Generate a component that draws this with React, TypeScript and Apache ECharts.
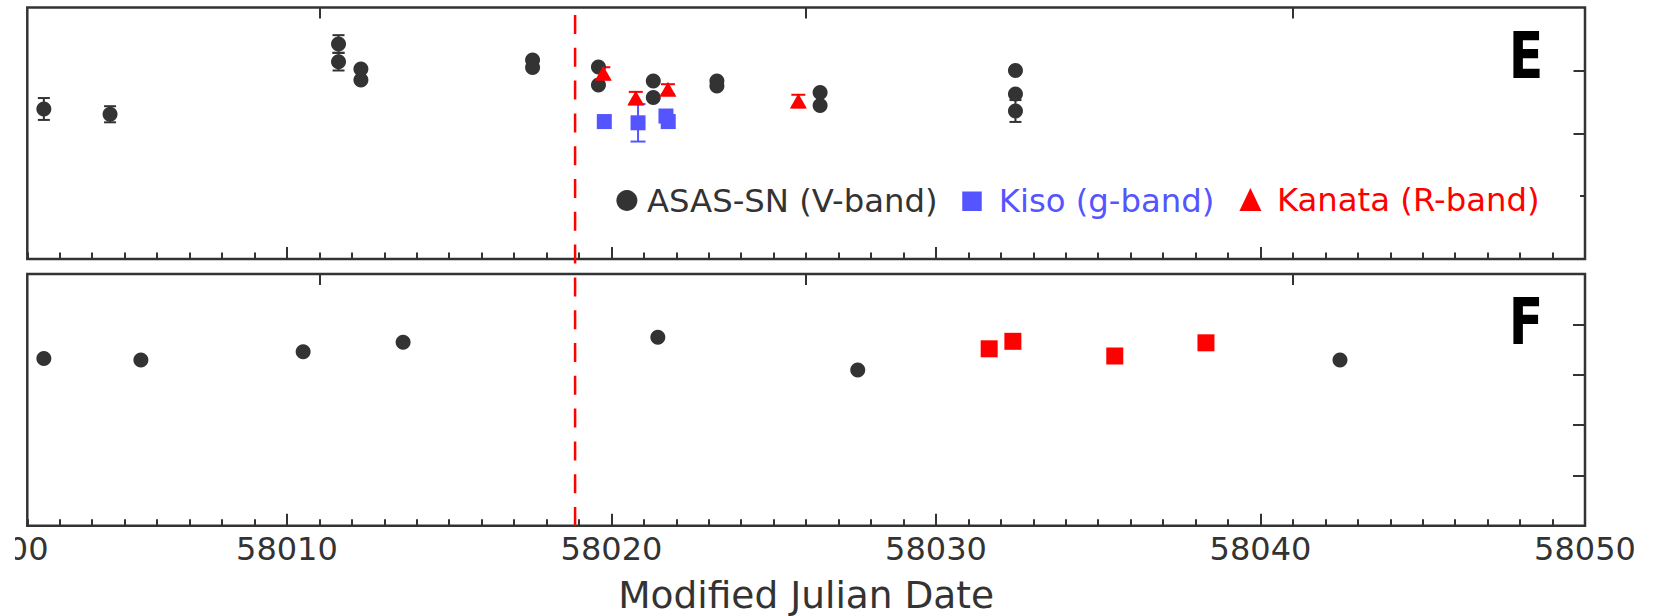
import React, { useEffect, useRef } from 'react';
import * as echarts from 'echarts';

const FONT = "'DejaVu Sans', 'Noto Sans', sans-serif";
const INK = '#333333';
const BLUE = '#5555ff';
const RED = '#ff0000';

const X_MIN = 58002;
const X_MAX = 58050;
const xLabelValues = [58010, 58020, 58030, 58040, 58050];
const xMajorTicks = [58010, 58020, 58030, 58040];
const topAxisTicks = [58011, 58026, 58041];
const eTicksLong = [12.5, 13.0];
const eTicksShort = [13.5];
const fTicks = [1, 2, 3, 4];
const explosionMJD = 58018.88;

// Panel E: [MJD, magnitude, error]
const asasE: number[][] = [
  [58002.51, 12.807, 0.087],
  [58004.55, 12.849, 0.064],
  [58011.59, 12.29, 0.07],
  [58011.59, 12.431, 0.07],
  [58012.28, 12.489, 0],
  [58012.28, 12.577, 0],
  [58017.57, 12.417, 0],
  [58017.57, 12.477, 0],
  [58019.6, 12.473, 0],
  [58019.6, 12.616, 0],
  [58021.29, 12.584, 0],
  [58021.29, 12.716, 0],
  [58023.25, 12.584, 0],
  [58023.25, 12.624, 0],
  [58026.43, 12.676, 0],
  [58026.43, 12.779, 0],
  [58032.45, 12.501, 0],
  [58032.45, 12.688, 0],
  [58032.45, 12.823, 0.087],
];
const kisoE: number[][] = [
  [58019.78, 12.907, 0],
  [58020.82, 12.917, 0.149],
  [58021.68, 12.863, 0],
  [58021.75, 12.907, 0],
];
const kanataE: number[][] = [
  [58019.75, 12.523, 0.048],
  [58020.75, 12.72, 0.049],
  [58021.74, 12.65, 0.04],
  [58025.76, 12.744, 0.05],
];

// Panel F: [MJD, value]
const asasF: number[][] = [
  [58002.51, 3.321],
  [58005.5, 3.292],
  [58010.5, 3.456],
  [58013.58, 3.643],
  [58021.43, 3.743],
  [58027.59, 3.093],
  [58042.45, 3.292],
];
const kanataF: number[][] = [
  [58031.64, 3.514],
  [58032.37, 3.663],
  [58035.51, 3.371],
  [58038.32, 3.633],
];

const GRID_LEFT = 27.3;
const GRID_WIDTH = 1557.7;

function xAxes(gridIndex: number, withLabels: boolean): any[] {
  const tick = (len: number, custom?: number[]) => ({
    show: true,
    inside: true,
    length: len,
    lineStyle: { color: INK, width: 2 },
    ...(custom ? { customValues: custom } : {}),
  });
  return [
    {
      gridIndex,
      type: 'value',
      min: X_MIN,
      max: X_MAX,
      interval: 1,
      position: 'bottom',
      axisLine: { show: false },
      axisTick: tick(6.5),
      axisLabel: { show: false },
      splitLine: { show: false },
    },
    {
      gridIndex,
      type: 'value',
      min: X_MIN,
      max: X_MAX,
      position: 'bottom',
      axisLine: { show: false },
      axisTick: tick(12, xMajorTicks),
      axisLabel: withLabels
        ? {
            show: true,
            customValues: xLabelValues,
            formatter: (v: number) => String(Math.round(v)),
            fontSize: 32,
            fontFamily: FONT,
            color: INK,
            margin: 7,
          }
        : { show: false },
      splitLine: { show: false },
      name: withLabels ? 'Modified Julian Date' : '',
      nameLocation: 'middle',
      nameGap: 51,
      nameTextStyle: { fontSize: 37.5, lineHeight: 37.5, fontFamily: FONT, color: INK },
    },
    {
      gridIndex,
      type: 'value',
      min: X_MIN,
      max: X_MAX,
      position: 'top',
      axisLine: { show: false },
      axisTick: tick(11, topAxisTicks),
      axisLabel: { show: false },
      splitLine: { show: false },
    },
  ];
}

function yAxis(gridIndex: number, min: number, max: number, inverse: boolean, ticks: number[], len: number): any {
  return {
    gridIndex,
    type: 'value',
    min,
    max,
    inverse,
    position: 'right',
    axisLine: { show: false },
    axisTick: {
      show: true,
      inside: true,
      length: len,
      customValues: ticks,
      lineStyle: { color: INK, width: 2 },
    },
    axisLabel: { show: false },
    splitLine: { show: false },
  };
}

function errorSeries(name: string, rows: number[][], color: string, cap: number, xi: number, yi: number): any {
  return {
    name,
    type: 'custom',
    xAxisIndex: xi,
    yAxisIndex: yi,
    encode: { x: 0, y: [1, 2] },
    data: rows.filter((r) => r[2] > 0).map((r) => [r[0], r[1] - r[2], r[1] + r[2]]),
    renderItem: (params: any, api: any) => {
      const p1 = api.coord([api.value(0), api.value(1)]);
      const p2 = api.coord([api.value(0), api.value(2)]);
      const hw = cap / 2;
      const st = { stroke: color, lineWidth: 2 };
      return {
        type: 'group',
        children: [
          { type: 'line', shape: { x1: p1[0], y1: p1[1], x2: p2[0], y2: p2[1] }, style: st },
          { type: 'line', shape: { x1: p1[0] - hw, y1: p1[1], x2: p1[0] + hw, y2: p1[1] }, style: st },
          { type: 'line', shape: { x1: p2[0] - hw, y1: p2[1], x2: p2[0] + hw, y2: p2[1] }, style: st },
        ],
      };
    },
  };
}

const LEGEND_CENTER_Y = 195;

function legendFor(
  name: string,
  color: string,
  iconCenterX: number,
  itemWidth: number,
  itemHeight: number,
  textPadLeft: number,
): any {
  return {
    data: [{ name, textStyle: { color } }],
    left: iconCenterX - itemWidth / 2,
    top: LEGEND_CENTER_Y - itemHeight / 2,
    padding: 0,
    itemWidth,
    itemHeight,
    selectedMode: false,
    textStyle: { fontSize: 32.3, fontFamily: FONT, color, padding: [0, 0, 0, textPadLeft] },
  };
}

export default function App() {
  const ref = useRef<HTMLDivElement>(null);

  useEffect(() => {
    document.body.style.margin = '0';
    if (!ref.current) return;
    const chart = echarts.init(ref.current, undefined, { renderer: 'svg' });

    const option: any = {
      animation: false,
      backgroundColor: '#ffffff',
      grid: [
        { left: GRID_LEFT, top: 7.5, width: GRID_WIDTH, height: 251.5, show: true, borderColor: INK, borderWidth: 2.5 },
        { left: GRID_LEFT, top: 274, width: GRID_WIDTH, height: 251.7, show: true, borderColor: INK, borderWidth: 2.5 },
      ],
      xAxis: [...xAxes(0, false), ...xAxes(1, true)],
      yAxis: [
        yAxis(0, 12, 14, true, eTicksLong, 11.5),
        yAxis(0, 12, 14, true, eTicksShort, 5),
        yAxis(1, 0, 5, false, fTicks, 12),
      ],
      legend: [
        legendFor('ASAS-SN (V-band)', INK, 631.4, 30, 21, 0),
        legendFor('Kiso (g-band)', BLUE, 972, 19.5, 19.5, 12),
        legendFor('Kanata (R-band)', RED, 1250.4, 22, 23, 10.5),
      ],
      series: [
        errorSeries('asasE-err', asasE, INK, 12, 0, 0),
        {
          name: 'ASAS-SN (V-band)',
          type: 'scatter',
          xAxisIndex: 0,
          yAxisIndex: 0,
          symbol: 'circle',
          symbolSize: 15,
          itemStyle: { color: INK, opacity: 1 },
          data: asasE.map((r) => [r[0], r[1]]),
        },
        errorSeries('kisoE-err', kisoE, BLUE, 15, 0, 0),
        {
          name: 'Kiso (g-band)',
          type: 'scatter',
          xAxisIndex: 0,
          yAxisIndex: 0,
          symbol: 'rect',
          symbolSize: 15,
          itemStyle: { color: BLUE, opacity: 1 },
          data: kisoE.map((r) => [r[0], r[1]]),
        },
        errorSeries('kanataE-err', kanataE, RED, 14, 0, 0),
        {
          name: 'Kanata (R-band)',
          type: 'scatter',
          xAxisIndex: 0,
          yAxisIndex: 0,
          symbol: 'triangle',
          symbolSize: [17, 15],
          itemStyle: { color: RED, opacity: 1 },
          data: kanataE.map((r) => [r[0], r[1]]),
        },
        {
          name: 'ASAS-SN F',
          type: 'scatter',
          xAxisIndex: 3,
          yAxisIndex: 2,
          symbol: 'circle',
          symbolSize: 15,
          itemStyle: { color: INK, opacity: 1 },
          data: asasF,
        },
        {
          name: 'Kanata F',
          type: 'scatter',
          xAxisIndex: 3,
          yAxisIndex: 2,
          symbol: 'rect',
          symbolSize: 17,
          itemStyle: { color: RED, opacity: 1 },
          data: kanataF,
        },
      ],
    };
    chart.setOption(option);

    const xPx = chart.convertToPixel({ xAxisIndex: 0 }, explosionMJD) as number;
    const yTop = (chart.convertToPixel({ yAxisIndex: 0 }, 12) as number) + 7.5;
    const yBottom = chart.convertToPixel({ yAxisIndex: 2 }, 0) as number;
    const labelY = yBottom + 7;

    chart.setOption({
      graphic: [
        {
          type: 'line',
          id: 'explosion',
          z: 50,
          shape: { x1: xPx, y1: yTop, x2: xPx, y2: yBottom },
          style: { stroke: RED, lineWidth: 2.5, lineDash: [19, 13.8] },
        },
        {
          type: 'text',
          id: 'cutLabel',
          x: 48.5,
          y: labelY,
          style: {
            text: '00',
            fontSize: 32,
            fontFamily: FONT,
            fill: INK,
            align: 'right',
            textAlign: 'right',
            verticalAlign: 'top',
            textVerticalAlign: 'top',
          },
        },
        {
          type: 'rect',
          id: 'cutMask',
          z: 100,
          shape: { x: 0, y: yBottom + 2, width: 15, height: 48 },
          style: { fill: '#ffffff' },
        },
        {
          type: 'text',
          id: 'labelE',
          x: 1526,
          y: 55.7,
          scaleX: 0.79,
          style: {
            text: 'E',
            fontSize: 64,
            fontWeight: 'bold',
            fontFamily: FONT,
            fill: '#000000',
            align: 'center',
            textAlign: 'center',
            verticalAlign: 'middle',
            textVerticalAlign: 'middle',
          },
        },
        {
          type: 'text',
          id: 'labelF',
          x: 1526,
          y: 322.3,
          scaleX: 0.79,
          style: {
            text: 'F',
            fontSize: 64,
            fontWeight: 'bold',
            fontFamily: FONT,
            fill: '#000000',
            align: 'center',
            textAlign: 'center',
            verticalAlign: 'middle',
            textVerticalAlign: 'middle',
          },
        },
      ],
    });

    return () => {
      chart.dispose();
    };
  }, []);

  return <div ref={ref} style={{ width: 1653, height: 616 }} />;
}
